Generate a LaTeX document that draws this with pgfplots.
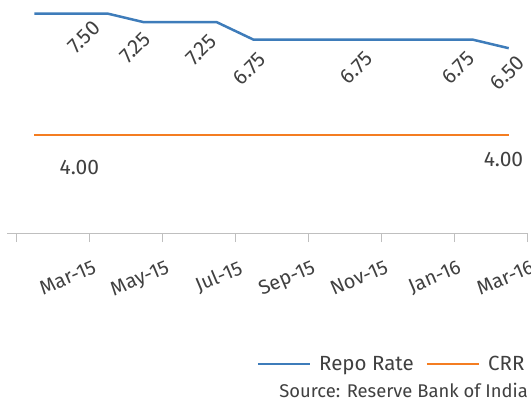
\documentclass[border=0pt]{standalone}
\usepackage{pgfplots}
\pgfplotsset{compat=1.18}
\usepackage{fontspec}
\setmainfont{Fira Sans}
\definecolor{repo}{RGB}{62,124,186}
\definecolor{crr}{RGB}{244,125,33}
\definecolor{txt}{RGB}{64,64,64}
\definecolor{axg}{RGB}{191,191,191}
\begin{document}
\begin{tikzpicture}[x=1pt,y=1pt]
\path[use as bounding box] (0,0) rectangle (531,-400);
\begin{axis}[
  at={(7pt,0pt)}, anchor=north west,
  scale only axis, width=520pt, height=233pt,
  xmin=0.2534, xmax=14.5, ymin=1.174, ymax=7.889,
  axis x line=bottom, axis y line=none,
  axis line style={-, draw=axg, line width=1pt},
  xtick={0.5,2.5,4.5,6.5,8.5,10.5,12.5,14.5},
  xticklabels={,Mar-15,May-15,Jul-15,Sep-15,Nov-15,Jan-16,Mar-16},
  ytick=\empty,
  tick align=outside, major tick length=9pt,
  tick style={draw=axg, line width=1pt},
  x tick label style={rotate=23, anchor=north east, font=\fontsize{20}{20}\selectfont, text=txt, inner sep=0pt, xshift=-4pt, yshift=-17pt},
  clip=false,
  legend style={draw=none, fill=none, at={(0.9955,-0.5622)}, anchor=east,
    font=\fontsize{20.5}{20.5}\selectfont, text=txt, inner sep=0pt,
    nodes={inner sep=0pt, text=txt},
    /tikz/every odd column/.append style={column sep=8pt},
    /tikz/every even column/.append style={column sep=12pt}},
  legend columns=2,
  legend image code/.code={\draw[#1, line width=2.5pt] (0pt,0pt) -- (52pt,0pt);},
]
\addplot[repo, line width=2.5pt] coordinates {
(1,7.50) (2,7.50) (3,7.50) (4,7.25) (5,7.25) (6,7.25) (7,6.75) (8,6.75) (9,6.75) (10,6.75) (11,6.75) (12,6.75) (13,6.75) (14,6.50)};
\addlegendentry{Repo Rate}
\addplot[crr, line width=2.5pt] coordinates {
(1,4.00) (2,4.00) (3,4.00) (4,4.00) (5,4.00) (6,4.00) (7,4.00) (8,4.00) (9,4.00) (10,4.00) (11,4.00) (12,4.00) (13,4.00) (14,4.00)};
\addlegendentry{CRR}
\begin{scope}[every node/.style={rotate=45, font=\fontsize{21}{21}\selectfont, text=txt, inner sep=0pt}]
\node at (axis cs:2.363,6.823) {7.50};
\node at (axis cs:3.760,6.520) {7.25};
\node at (axis cs:5.568,6.448) {7.25};
\node at (axis cs:6.897,5.901) {6.75};
\node at (axis cs:9.829,5.929) {6.75};
\node at (axis cs:12.610,5.929) {6.75};
\node at (axis cs:13.966,5.785) {6.50};
\end{scope}
\node[font=\fontsize{21}{21}\selectfont, text=txt, inner sep=0pt] at (axis cs:2.237,3.076) {4.00};
\node[font=\fontsize{21}{21}\selectfont, text=txt, inner sep=0pt] at (axis cs:13.856,3.293) {4.00};
\end{axis}
\node[anchor=base east, font=\fontsize{18.4}{18.4}\selectfont, text=txt, inner sep=0pt] at (528,-397) {Source: Reserve Bank of India};
\end{tikzpicture}
\end{document}
